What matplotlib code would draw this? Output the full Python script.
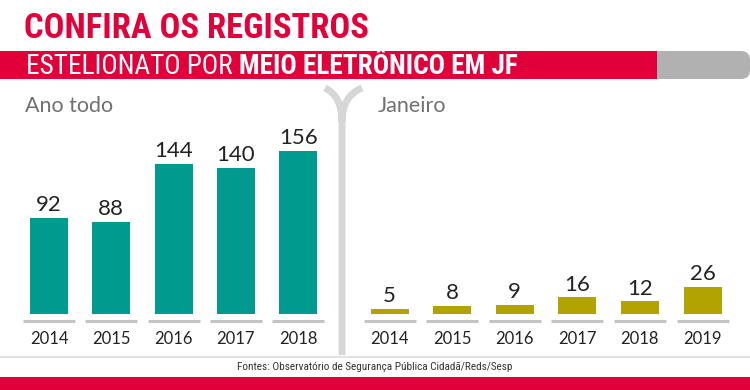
import numpy as np
import matplotlib
matplotlib.use("Agg")
import matplotlib.pyplot as plt
from matplotlib.patches import Rectangle, FancyBboxPatch, PathPatch
from matplotlib.path import Path

# dados
anos_total = ["2014", "2015", "2016", "2017", "2018"]
valores_total = [92, 88, 144, 140, 156]
anos_janeiro = ["2014", "2015", "2016", "2017", "2018", "2019"]
valores_janeiro = [5, 8, 9, 16, 12, 26]

W, H = 750, 390
RED = "#e2003a"
TEAL = "#009a8e"
OLIVE = "#b3a300"
LGRAY = "#d6d6d6"
NARROW = ["Roboto Condensed", "Liberation Sans Narrow", "Roboto", "DejaVu Sans"]
SANS = ["Lato", "DejaVu Sans"]

fig = plt.figure(figsize=(W / 100, H / 100), dpi=100)
fig.patch.set_facecolor("white")
r = fig.canvas.get_renderer()


def fx(x):
    return x / W


def fy(y):
    return 1 - y / H


def ajusta(t, largura):
    # encolhe a fonte ate o texto caber na largura (px)
    w = t.get_window_extent(renderer=r).width
    t.set_fontsize(t.get_fontsize() * largura / w)
    return t


# titulo
t = fig.text(fx(24), fy(28), "CONFIRA OS REGISTROS", color=RED, fontsize=20,
             fontweight="bold", family=NARROW, va="center", ha="left")
ajusta(t, 344)

# faixa vermelha + cinza
gray = FancyBboxPatch((fx(600), fy(79)), fx(150), 28 / H,
                      boxstyle="round,pad=0,rounding_size=0.012",
                      transform=fig.transFigure, facecolor="#b1b1b1",
                      edgecolor="none", mutation_aspect=W / H)
fig.patches.append(gray)
fig.patches.append(Rectangle((0, fy(79)), fx(657), 28 / H,
                             transform=fig.transFigure, facecolor=RED,
                             edgecolor="none"))
t1 = fig.text(fx(26), fy(66), "ESTELIONATO POR ", color="white", fontsize=17,
              family=NARROW, va="center", ha="left")
t2 = fig.text(0, fy(66), "MEIO ELETRÔNICO EM JF", color="white",
              fontsize=17, fontweight="bold", family=NARROW, va="center", ha="left")
w1 = t1.get_window_extent(renderer=r).width
w2 = t2.get_window_extent(renderer=r).width
k = 493 / (w1 + w2)
t1.set_fontsize(17 * k)
t2.set_fontsize(17 * k)
t2.set_x((26 + w1 * k) / W)

# subtitulos
fig.text(fx(25), fy(106), "Ano todo", color="#707070", fontsize=15.5,
         family=SANS, va="center", ha="left")
fig.text(fx(378), fy(106), "Janeiro", color="#707070", fontsize=15.5,
         family=SANS, va="center", ha="left")

# divisoria em Y
verts = [(fx(325), fy(88)), (fx(342), fy(96)), (fx(342), fy(122)),
         (fx(342), fy(355)),
         (fx(342), fy(122)), (fx(342), fy(96)), (fx(362), fy(88))]
codes = [Path.MOVETO, Path.CURVE3, Path.CURVE3, Path.LINETO,
         Path.MOVETO, Path.CURVE3, Path.CURVE3]
fig.patches.append(PathPatch(Path(verts, codes), transform=fig.transFigure,
                             facecolor="none", edgecolor=LGRAY, lw=5,
                             capstyle="butt"))

# rodape
fig.add_artist(plt.Line2D([0, 1], [fy(357), fy(357)], color="#e2e2e2", lw=1.5,
                          transform=fig.transFigure))
tf = fig.text(0.5, fy(367), "Fontes: Observatório de Segurança Pública Cidadã/Reds/Sesp",
              color="#333333", fontsize=8, family=NARROW, ha="center", va="center")
ajusta(tf, 277)
fig.patches.append(Rectangle((0, 0), 1, 13 / H, transform=fig.transFigure,
                             facecolor=RED, edgecolor="none"))

PX_UNIT = 1.045  # pixels por unidade
BASE = 314


def painel(x0, x1, c0, step, anos, valores, cor):
    top = 140
    ax = fig.add_axes([fx(x0), fy(BASE), fx(x1) - fx(x0), (BASE - top) / H])
    idx = np.arange(len(anos))
    bars = ax.bar(idx, valores, width=38 / step, color=cor)
    ax.bar_label(bars, labels=[str(v) for v in valores], padding=2,
                 fontsize=16, color="#222222", family=SANS)
    ax.set_xlim((x0 - c0) / step, (x1 - c0) / step)
    ax.set_ylim(0, (BASE - top) / PX_UNIT)
    ax.hlines([-7 / PX_UNIT] * len(idx), idx - 26 / step, idx + 26 / step,
              color="#c4c4c4", lw=2.2, clip_on=False)
    ax.set_xticks(idx)
    ax.set_xticklabels(anos, fontsize=12, color="#222222", family=SANS)
    ax.tick_params(axis="x", length=0, pad=12)
    ax.set_yticks([])
    for s in ax.spines.values():
        s.set_visible(False)
    ax.patch.set_alpha(0)
    return ax


painel(0, 338, 49, 62.3, anos_total, valores_total, TEAL)
painel(346, 750, 389.5, 62.6, anos_janeiro, valores_janeiro, OLIVE)

fig.savefig("out.png", dpi=100)
